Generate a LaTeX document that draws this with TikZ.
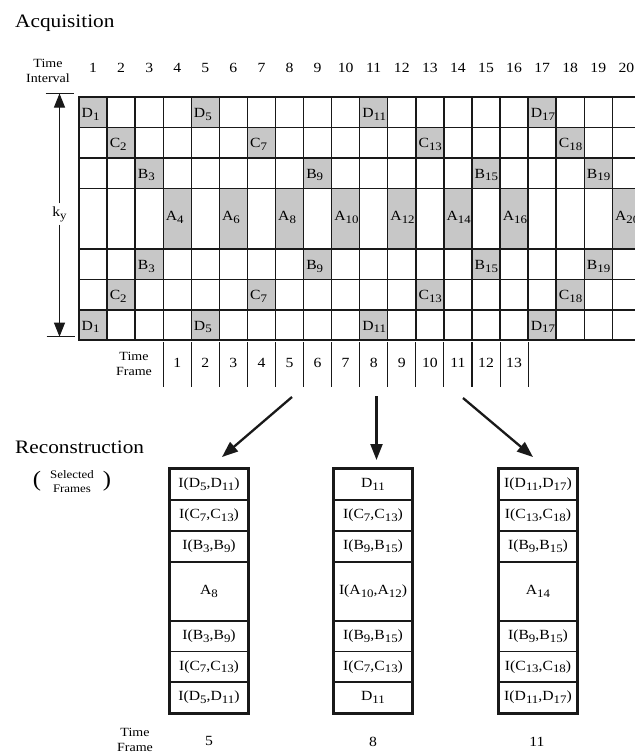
\documentclass[tikz,border=0pt]{standalone}
\usepackage{fontspec}
\setmainfont{Liberation Serif}[FakeStretch=1.12]
\usetikzlibrary{arrows.meta}
\definecolor{cellgray}{gray}{0.78}
\definecolor{ink}{gray}{0.1}

% lowered subscript used in all cell labels
\newcommand\lo[1]{\raisebox{-2.8pt}{\fontsize{11.5}{11.5}\selectfont #1}}

\tikzset{
  gridline/.style={line width=1.4pt, draw=ink},
  framesep/.style={line width=1.1pt, draw=ink},
  celltext/.style={anchor=base west, inner sep=0pt, font=\fontsize{14}{14}\selectfont},
  numtext/.style={inner sep=0pt, font=\fontsize{14}{14}\selectfont},
  heading/.style={anchor=base west, inner sep=0pt, font=\fontsize{19}{19}\selectfont},
  smalllabel/.style={align=center, inner sep=0pt, font=\fontsize{12.5}{15}\selectfont},
  recbox/.style={draw=ink, line width=1.3pt, minimum width=78pt, inner sep=0pt,
    font=\fontsize{14}{14}\selectfont},
  bigarrow/.style={draw=ink, line width=2.3pt, -{Triangle[length=16pt,width=12pt]}},
  kyarrow/.style={draw=ink, line width=0.9pt, -{Triangle[length=14pt,width=11pt]}},
}

\begin{document}
\begin{tikzpicture}[x=1pt,y=-1pt]
\useasboundingbox (0,0) rectangle (635,753);
\fill[white] (0,0) rectangle (635,753);

% ---------- acquisition grid ----------
\node[heading] (acq) at (15,27) {Acquisition};
\node[smalllabel] (tint) at (48,71) {Time\\Interval};
\foreach \k in {1,...,20}
  \node[numtext] (col\k) at ({79+(\k-0.5)*28.07},68) {\k};

\begin{scope}
\clip (0,0) rectangle (635,753);
\foreach \r/\t/\b/\L/\cols in {
    1/97/127.4/D/{1,5,11,17},
    2/127.4/157.8/C/{2,7,13,18},
    3/157.8/188.2/B/{3,9,15,19},
    4/188.2/249/A/{4,6,8,10,12,14,16,20},
    5/249/279.4/B/{3,9,15,19},
    6/279.4/309.8/C/{2,7,13,18},
    7/309.8/340.2/D/{1,5,11,17}} {
  \foreach \c in \cols {
    \pgfmathsetmacro\xl{79+(\c-1)*28.07}
    \pgfmathsetmacro\xr{\xl+28.07}
    \pgfmathsetmacro\yb{(\t+\b)/2+(\r==4 ? 2 : 5)}
    \fill[cellgray] (\xl,\t) rectangle (\xr,\b);
    \node[celltext] (cell-\r-\c) at (\xl+2.5,\yb) {\L\lo{\c}};
  }
}
\foreach \k in {0,...,20}
  \draw[gridline] ({79+\k*28.07},97) -- ({79+\k*28.07},340.2);
\foreach \y in {127.4,157.8,188.2,249,279.4,309.8}
  \draw[gridline] (79,\y) -- (645,\y);
\draw[draw=ink, line width=2pt] (645,97) -- (79,97) -- (79,340.2) -- (645,340.2);
\end{scope}

% k_y extent arrow
\coordinate (kytop) at (59.5,93.5);
\coordinate (kybot) at (59.5,336.7);
\draw[draw=ink, line width=1pt] (45.5,93.5) -- (74,93.5);
\draw[draw=ink, line width=1pt] (46.5,336.7) -- (75,336.7);
\node[inner sep=3pt, font=\fontsize{14}{14}\selectfont] (ky) at (59.5,214) {k\lo{y}};
\draw[kyarrow] (ky) -- (kytop);
\draw[kyarrow] (ky) -- (kybot);

% time frames
\node[smalllabel] (tframe) at (134,364) {Time\\Frame};
\foreach \k in {4,...,17}
  \draw[framesep] ({79+(\k-1)*28.07},342) -- ++(0,45);
\foreach \f in {1,...,13}
  \node[numtext] (fr\f) at ({79+(\f+2.5)*28.07},363) {\f};

% ---------- reconstruction ----------
\node[heading] (rec) at (15,453) {Reconstruction};
\node[inner sep=0pt, font=\fontsize{22}{22}\selectfont] (lpar) at (37,481) {(};
\node[inner sep=0pt, font=\fontsize{22}{22}\selectfont] (rpar) at (107,481) {)};
\node[align=center, inner sep=0pt, font=\fontsize{11.5}{14}\selectfont] (selfr) at (72,482) {Selected\\Frames};

\coordinate (s5) at (292,397);   \coordinate (e5) at (222,457);
\coordinate (s8) at (376.5,396); \coordinate (e8) at (376.5,460);
\coordinate (s11) at (463,398);  \coordinate (e11) at (533,457);
\draw[bigarrow] (s5) -- (e5);
\draw[bigarrow] (s8) -- (e8);
\draw[bigarrow] (s11) -- (e11);

% frame 5
\node[recbox, minimum height=31pt]   (L1) at (209,484.5) {I(D\lo{5},D\lo{11})};
\node[recbox, minimum height=31pt]   (L2) at (209,515.5) {I(C\lo{7},C\lo{13})};
\node[recbox, minimum height=31pt]   (L3) at (209,546.5) {I(B\lo{3},B\lo{9})};
\node[recbox, minimum height=59pt]   (L4) at (209,591.5) {A\lo{8}};
\node[recbox, minimum height=30.5pt] (L5) at (209,636.25) {I(B\lo{3},B\lo{9})};
\node[recbox, minimum height=30.5pt] (L6) at (209,666.75) {I(C\lo{7},C\lo{13})};
\node[recbox, minimum height=31pt]   (L7) at (209,697.5) {I(D\lo{5},D\lo{11})};
\draw[draw=ink, line width=1.8pt] (L1.north west) rectangle (L7.south east);

% frame 8
\node[recbox, minimum height=31pt]   (M1) at (373,484.5) {D\lo{11}};
\node[recbox, minimum height=31pt]   (M2) at (373,515.5) {I(C\lo{7},C\lo{13})};
\node[recbox, minimum height=31pt]   (M3) at (373,546.5) {I(B\lo{9},B\lo{15})};
\node[recbox, minimum height=59pt]   (M4) at (373,591.5) {I(A\lo{10},A\lo{12})};
\node[recbox, minimum height=30.5pt] (M5) at (373,636.25) {I(B\lo{9},B\lo{15})};
\node[recbox, minimum height=30.5pt] (M6) at (373,666.75) {I(C\lo{7},C\lo{13})};
\node[recbox, minimum height=31pt]   (M7) at (373,697.5) {D\lo{11}};
\draw[draw=ink, line width=1.8pt] (M1.north west) rectangle (M7.south east);

% frame 11
\node[recbox, minimum height=31pt]   (R1) at (538,484.5) {I(D\lo{11},D\lo{17})};
\node[recbox, minimum height=31pt]   (R2) at (538,515.5) {I(C\lo{13},C\lo{18})};
\node[recbox, minimum height=31pt]   (R3) at (538,546.5) {I(B\lo{9},B\lo{15})};
\node[recbox, minimum height=59pt]   (R4) at (538,591.5) {A\lo{14}};
\node[recbox, minimum height=30.5pt] (R5) at (538,636.25) {I(B\lo{9},B\lo{15})};
\node[recbox, minimum height=30.5pt] (R6) at (538,666.75) {I(C\lo{13},C\lo{18})};
\node[recbox, minimum height=31pt]   (R7) at (538,697.5) {I(D\lo{11},D\lo{17})};
\draw[draw=ink, line width=1.8pt] (R1.north west) rectangle (R7.south east);

% frame numbers below
\node[smalllabel] (tframe2) at (135,740) {Time\\Frame};
\node[numtext] (n5) at (209,741) {5};
\node[numtext] (n8) at (373,742) {8};
\node[numtext] (n11) at (537,742) {11};
\end{tikzpicture}
\end{document}
